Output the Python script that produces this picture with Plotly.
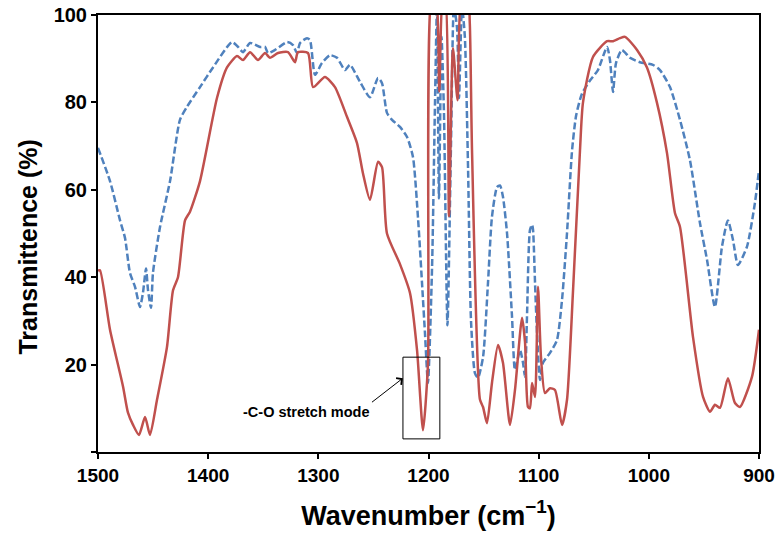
import plotly.graph_objects as go

# Red (solid) spectrum
red_wn = [1500, 1498.2, 1489.1, 1477.3, 1472.8, 1468.2, 1462.8, 1457.3, 1452.8, 1446.4,
          1437.4, 1431.9, 1427.4, 1421.0, 1416.5, 1407.4, 1392.0, 1382.9, 1373.8, 1368.4,
          1362.0, 1354.8, 1348.4, 1343.9, 1336.6, 1327.5, 1321.2, 1318.5, 1309.4, 1304.8,
          1294.0, 1284.9, 1274.0, 1264.9, 1259.5, 1253.1, 1245.8, 1242.2, 1237.7, 1225.9,
          1216.8, 1210.4, 1205.0, 1200.5, 1196.8, 1193.5, 1190.2, 1186.8, 1185.0, 1181.4,
          1177.8, 1173.6, 1169.6, 1164.5, 1162.5, 1160.5, 1153.3, 1150.5, 1146.9, 1142.4,
          1136.9, 1132.4, 1126.0, 1121.5, 1115.1, 1112.4, 1109.7, 1107.9, 1106.0, 1103.3,
          1100.6, 1097.9, 1094.3, 1089.7, 1085.2, 1078.8, 1074.3, 1068.8, 1062.5, 1059.8,
          1050.7, 1037.9, 1032.5, 1026.2, 1021.6, 1010.7, 1001.7, 992.6, 983.5, 976.3,
          971.7, 959.9, 950.8, 944.5, 940.0, 935.4, 928.2, 921.8, 917.3, 906.4, 900]
red_t = [41.5, 41.6, 28, 15, 9, 6.2, 3.9, 8, 3.9, 12,
         24, 37, 40, 53, 55, 62, 81, 88, 90.6, 89.7,
         91.5, 89.7, 91.3, 90.2, 91.3, 91.5, 89.2, 91.5, 91.3, 83.5,
         85.8, 83.5, 76.7, 70.7, 63.8, 57.7, 66.4, 65.2, 50, 43,
         36.4, 23.3, 5, 20, 105, 105, 82.5, 105, 105, 54,
         92.4, 80.5, 105, 105, 98, 69, 12, 10.3, 6.6, 15.8,
         24.5, 20.4, 6.2, 14.2, 30.7, 25.2, 10.3, 10, 15.8, 12.6,
         37.8, 21.7, 13.5, 14.6, 14.2, 6.2, 11.9, 37, 69, 79.9,
         90.4, 94, 94, 94.7, 95, 92, 88, 79.9, 68.4, 54.7,
         51.5, 26.3, 12.6, 9.2, 10.8, 10.1, 16.9, 11.2, 10.3, 17.2, 28]

# Blue (dashed) spectrum
blue_wn = [1500, 1489.1, 1480.0, 1475.5, 1471.0, 1466.4, 1461.9, 1459.2, 1456.4, 1454.6,
           1451.9, 1450.1, 1443.7, 1434.6, 1425.6, 1419.2, 1407.4, 1395.6, 1378.4, 1372.9,
           1368.4, 1362.0, 1352.9, 1348.4, 1345.7, 1339.3, 1328.4, 1323.0, 1319.4, 1316.6,
           1310.3, 1307.6, 1303.0, 1296.7, 1289.4, 1283.0, 1275.8, 1271.3, 1262.2, 1253.1,
           1245.8, 1242.2, 1237.7, 1233.1, 1225.9, 1219.5, 1214.1, 1209.5, 1205.9, 1203.2,
           1200.5, 1196.8, 1194.1, 1192.3, 1190.5, 1188.2, 1186.0, 1182.8, 1179.6, 1176.9,
           1174.1, 1172.3, 1169.6, 1167.0, 1164.1, 1161.4, 1157.8, 1155.1, 1150.5, 1146.0,
           1142.4, 1137.8, 1135.1, 1132.4, 1128.7, 1124.2, 1121.5, 1116.9, 1114.2, 1112.4,
           1110.6, 1107.9, 1106.0, 1105.1, 1103.3, 1101.5, 1098.8, 1096.1, 1089.7, 1083.4,
           1078.8, 1074.3, 1069.7, 1066.0, 1060.7, 1053.4, 1046.2, 1037.9, 1035.3, 1032.5,
           1029.8, 1024.4, 1017.1, 1008.1, 996.3, 989.9, 980.8, 971.7, 962.7, 953.6,
           947.2, 940.0, 933.6, 928.2, 923.6, 919.1, 910.9, 903.7, 900]
blue_t = [69.6, 62, 53, 49, 41, 37.8, 33.2, 36.4, 42, 37,
          33, 41, 51.5, 62, 76, 79, 83.5, 88, 93.8, 92.7,
          91.5, 93.6, 92.7, 92.7, 91.3, 92, 93.8, 93.1, 91.3, 93.6,
          94.7, 94.3, 86.3, 89, 90.8, 90.2, 87.4, 88.6, 84.7, 81.2,
          85.6, 84.4, 77.6, 76, 74.4, 72.1, 67.5, 53.5, 38.7, 27.2,
          15.8, 42, 80, 102, 58, 95, 78, 29, 70, 102,
          97, 81, 102, 95, 65, 30, 18, 17, 21.7, 38.7,
          53.8, 60.6, 61, 58.4, 50, 31, 18.8, 23.3, 20.4, 17.2,
          31, 50.8, 52, 50.8, 38.7, 27.2, 16.5, 20.4, 22.7, 25.6,
          34.8, 50, 69, 77, 82, 85, 87.4, 92.7, 89.7, 82.4,
          89, 92, 90.2, 89.2, 88.6, 87.4, 83.5, 76, 66.8, 52.4,
          44, 33.2, 47, 53, 48.5, 42.8, 47, 57, 64.5]

x_ticks = [1500, 1400, 1300, 1200, 1100, 1000, 900]
x_ticktext = ["1500", "1400", "1300", "1200", "1100", "1000", "900"]
y_ticks = [20, 40, 60, 80, 100]
y_ticktext = ["20", "40", "60", "80", "100"]
y_unlabelled_ticks = [0]

FONT = "Arial, Liberation Sans, sans-serif"

fig = go.Figure()
fig.add_trace(go.Scatter(x=blue_wn, y=blue_t, mode="lines",
                         line=dict(color="#4F81BD", width=2.5, dash="7px,3px",
                                   shape="spline", smoothing=0.6),
                         showlegend=False))
fig.add_trace(go.Scatter(x=red_wn, y=red_t, mode="lines",
                         line=dict(color="#C0504D", width=2.5,
                                   shape="spline", smoothing=0.6),
                         showlegend=False))

# highlighted box around the C-O stretch band
fig.add_shape(type="rect", x0=1223.2, x1=1189.7, y0=3.0, y1=21.7,
              line=dict(color="black", width=1), layer="above")
# label with arrow pointing at the box
fig.add_annotation(x=1223.2, y=16.9, ax=1251.3, ay=11.4, axref="x", ayref="y",
                   text="-C-O stretch mode", xanchor="right", yanchor="top",
                   showarrow=True, arrowhead=4, arrowsize=1.6,
                   arrowwidth=1, arrowcolor="black",
                   font=dict(family=FONT, size=14.5, color="black", weight="bold"))
# y-axis title (rotated text, slightly below the plot centre as in the original)
fig.add_annotation(x=-0.106, y=0.47, xref="paper", yref="paper",
                   text="Transmittence (%)", textangle=-90, showarrow=False,
                   xanchor="center", yanchor="middle",
                   font=dict(family=FONT, size=25, color="black", weight="bold"))

fig.update_layout(
    width=783, height=536,
    margin=dict(l=98, r=24, t=15, b=84),
    paper_bgcolor="white", plot_bgcolor="white",
    font=dict(family=FONT, color="black"),
    xaxis=dict(range=[1500, 900], tickvals=x_ticks, ticktext=x_ticktext,
               automargin=False,
               showgrid=False, zeroline=False, showline=True, linecolor="black",
               linewidth=2, mirror=True, ticks="outside", ticklen=5, tickwidth=2,
               tickcolor="black",
               tickfont=dict(family=FONT, size=19, weight="bold"),
               title=dict(text="Wavenumber (cm<sup>\u22121</sup>)", standoff=21,
                          font=dict(family=FONT, size=27, weight="bold"))),
    yaxis=dict(range=[0, 100], tickvals=y_ticks, ticktext=y_ticktext,
               automargin=False, ticklabeloverflow="allow",
               minor=dict(tickvals=y_unlabelled_ticks, ticks="outside", ticklen=5,
                          tickwidth=2, tickcolor="black"),
               showgrid=False, zeroline=False, showline=True, linecolor="black",
               linewidth=2, mirror=True, ticks="outside", ticklen=5, tickwidth=2,
               tickcolor="black",
               tickfont=dict(family=FONT, size=20, weight="bold")),
)

# remove the default 8px page margin so the figure fills the window exactly
fig.write_html("out.html", config={"displayModeBar": False},
               post_script="document.body.style.margin='0';")
